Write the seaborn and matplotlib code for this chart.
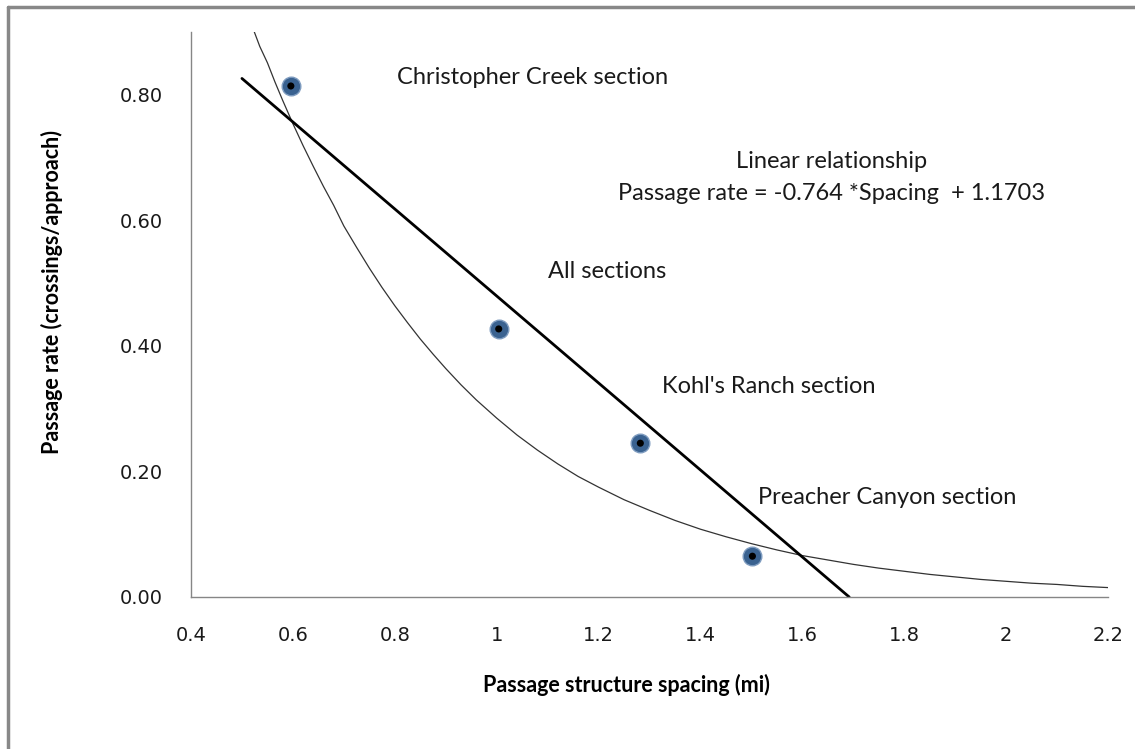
import matplotlib
matplotlib.use("Agg")
import matplotlib.pyplot as plt
import seaborn as sns
import pandas as pd
from matplotlib.lines import Line2D

sns.set_theme(style="white")
plt.rcParams['font.family'] = ['Lato', 'DejaVu Sans']

# Observed section points
sections = ["Christopher Creek", "All sections", "Kohl's Ranch", "Preacher Canyon"]
spacing = [0.596, 1.004, 1.282, 1.502]
passage_rate = [0.814, 0.427, 0.245, 0.065]

# Linear trend line (end points)
lin_x = [0.50, 1.692]
lin_y = [0.826, 0.0]

# Curved trend line
curve_x = [0.522, 0.535, 0.55, 0.565, 0.58, 0.60, 0.62, 0.64, 0.66, 0.68, 0.70, 0.725, 0.75,
           0.775, 0.80, 0.825, 0.85, 0.875, 0.90, 0.93, 0.96, 1.00, 1.04, 1.08, 1.12, 1.16,
           1.20, 1.25, 1.30, 1.35, 1.40, 1.45, 1.50, 1.55, 1.60, 1.65, 1.70, 1.75, 1.80,
           1.85, 1.90, 1.95, 2.00, 2.05, 2.10, 2.15, 2.20]
curve_y = [0.905, 0.877, 0.851, 0.820, 0.791, 0.754, 0.719, 0.686, 0.654, 0.624, 0.591, 0.557,
           0.524, 0.493, 0.464, 0.437, 0.411, 0.387, 0.364, 0.338, 0.314, 0.285, 0.258, 0.234,
           0.212, 0.192, 0.175, 0.155, 0.138, 0.122, 0.108, 0.096, 0.085, 0.075, 0.066,
           0.059, 0.052, 0.046, 0.041, 0.036, 0.032, 0.028, 0.025, 0.022, 0.020, 0.017, 0.015]

x_ticks = [0.4, 0.6, 0.8, 1.0, 1.2, 1.4, 1.6, 1.8, 2.0, 2.2]
x_tick_labels = ["0.4", "0.6", "0.8", "1", "1.2", "1.4", "1.6", "1.8", "2", "2.2"]
y_ticks = [0.0, 0.2, 0.4, 0.6, 0.8]
y_tick_labels = ["0.00", "0.20", "0.40", "0.60", "0.80"]

labels = ["Christopher Creek section", "All sections", "Kohl's Ranch section", "Preacher Canyon section"]
label_x = [0.804, 1.100, 1.325, 1.513]
label_y = [0.827, 0.518, 0.336, 0.159]

pts = pd.DataFrame({"spacing": spacing, "rate": passage_rate, "section": sections})
lin = pd.DataFrame({"x": lin_x, "y": lin_y})
cur = pd.DataFrame({"x": curve_x, "y": curve_y})

fig = plt.figure(figsize=(11.35, 7.49), dpi=100)
ax = fig.add_axes([191/1135, 1-597/749, (1108-191)/1135, (597-32)/749])

sns.lineplot(data=cur, x="x", y="y", ax=ax, color="#333333", linewidth=0.9, sort=True)
sns.lineplot(data=lin, x="x", y="y", ax=ax, color="black", linewidth=2.0)
sns.scatterplot(data=pts, x="spacing", y="rate", ax=ax, s=180, color="#3a6290",
                edgecolor="#7f9cc0", linewidth=1.0, zorder=5)
sns.scatterplot(data=pts, x="spacing", y="rate", ax=ax, s=26, color="black",
                edgecolor="none", zorder=6)

ax.set_xlim(0.4, 2.2)
ax.set_ylim(0, 0.9)
ax.set_xticks(x_ticks)
ax.set_xticklabels(x_tick_labels)
ax.set_yticks(y_ticks)
ax.set_yticklabels(y_tick_labels)
ax.set_xlabel("")
ax.set_ylabel("")

for s in ["top", "right"]:
    ax.spines[s].set_visible(False)
for s in ["left", "bottom"]:
    ax.spines[s].set_color("#868686")
    ax.spines[s].set_linewidth(1.0)
ax.tick_params(axis="both", direction="out", length=6, width=1.0, color="#868686",
               labelcolor="#1a1a1a")
ax.tick_params(axis="x", pad=15)
ax.tick_params(axis="y", pad=14)
for t in ax.get_xticklabels() + ax.get_yticklabels():
    t.set_fontfamily(["DejaVu Sans"])
    t.set_fontsize(14)

for txt, lx, ly in zip(labels, label_x, label_y):
    ax.text(lx, ly, txt, fontsize=17, color="#1a1a1a", ha="left", va="center")

ax.text(1.658, 0.693, "Linear relationship", fontsize=17, color="#1a1a1a", ha="center", va="center")
ax.text(1.658, 0.642, "Passage rate = -0.764 *Spacing  + 1.1703", fontsize=17, color="#1a1a1a",
        ha="center", va="center")

fig.text(626/1135, 1-685/749, "Passage structure spacing (mi)", fontsize=15.5, fontweight="bold",
         ha="center", va="center", color="black")
fig.text(52/1135, 1-292/749, "Passage rate (crossings/approach)", fontsize=15.5, fontweight="bold",
         ha="center", va="center", rotation=90, color="black")

# outer chart frame (top and left edges visible)
fig.add_artist(Line2D([8/1135, 1.0], [1-7/749, 1-7/749], transform=fig.transFigure,
                      color="#888888", linewidth=2.5))
fig.add_artist(Line2D([8/1135, 8/1135], [1-7/749, 0.0], transform=fig.transFigure,
                      color="#888888", linewidth=2.5))

fig.savefig("out.png", dpi=100, facecolor="white")
